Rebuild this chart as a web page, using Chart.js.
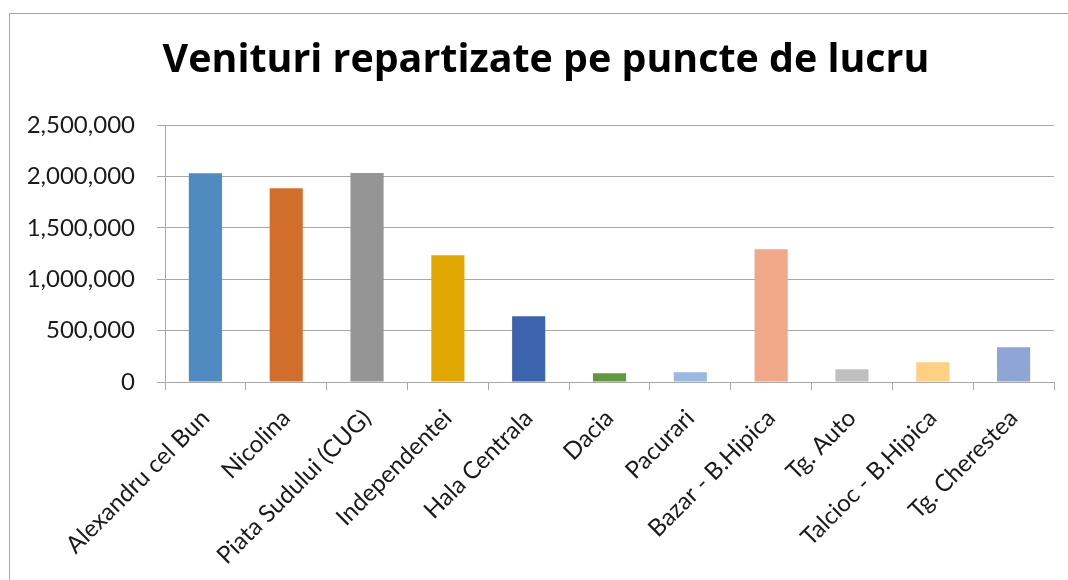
<!DOCTYPE html>
<html>
<head>
<meta charset="utf-8">
<title>Venituri repartizate pe puncte de lucru</title>
<script src="https://cdn.jsdelivr.net/npm/chart.js@4.4.1/dist/chart.umd.min.js"></script>
<style>
    html, body { margin: 0; padding: 0; background: #fff; overflow: hidden; }
    .frame {
        position: absolute;
        left: 9px;
        top: 13px;
        width: 1200px;
        height: 700px;
        border: 1px solid #a6a6a6;
    }
    #chart { position: absolute; left: 0; top: 0; }
</style>
</head>
<body>
<div class="frame"></div>
<canvas id="chart" width="1068" height="580"></canvas>
<script>
// === DATA ===
const categories = [
    'Alexandru cel Bun', 'Nicolina', 'Piata Sudului (CUG)', 'Independentei',
    'Hala Centrala', 'Dacia', 'Pacurari', 'Bazar - B.Hipica', 'Tg. Auto',
    'Talcioc - B.Hipica', 'Tg. Cherestea'
];
const venituri = [
    2030000, 1884000, 2032000, 1232000, 639000, 85000,
    94000, 1291000, 123000, 191000, 337000
];
const barColors = [
    '#4f8bc1', '#d26e2b', '#959595', '#e0a800', '#3c64ad', '#62993e',
    '#99b9e1', '#f0a889', '#bfbfbf', '#fed182', '#8fa5d5'
];
const yTicks = [0, 500000, 1000000, 1500000, 2000000, 2500000];
const chartTitle = 'Venituri repartizate pe puncte de lucru';

const font = "Lato, 'Open Sans', sans-serif";
const titleFont = "'Open Sans', Lato, sans-serif";
const gridColor = '#a8a8a8';

// Title drawn by hand: it is centred a bit off the plot area in the original
const titlePlugin = {
    id: 'offsetTitle',
    afterDraw: function (chart) {
        const ctx = chart.ctx;
        ctx.save();
        ctx.font = 'bold 40px ' + titleFont;
        const size = 40 * 767 / ctx.measureText(chartTitle).width;
        ctx.font = 'bold ' + size.toFixed(1) + 'px ' + titleFont;
        ctx.fillStyle = '#000';
        ctx.textAlign = 'center';
        ctx.textBaseline = 'alphabetic';
        ctx.fillText(chartTitle, 546, 72);
        ctx.restore();
    }
};

new Chart(document.getElementById('chart'), {
    type: 'bar',
    data: {
        labels: categories,
        datasets: [{
            data: venituri,
            backgroundColor: barColors,
            borderWidth: 0,
            barPercentage: 0.41,
            categoryPercentage: 1
        }]
    },
    options: {
        responsive: false,
        animation: false,
        layout: { padding: { left: 0, right: 14, top: 125, bottom: 0 } },
        plugins: {
            legend: { display: false },
            tooltip: { enabled: false },
            title: { display: false }
        },
        scales: {
            x: {
                grid: {
                    drawOnChartArea: false,
                    drawTicks: true,
                    tickLength: 8,
                    color: gridColor
                },
                border: { color: gridColor },
                ticks: {
                    color: '#1a1a1a',
                    font: { family: font, size: 24 },
                    minRotation: 45,
                    maxRotation: 45,
                    padding: 14,
                    autoSkip: false
                },
                afterFit: function (scale) { scale.height = 198; }
            },
            y: {
                min: 0,
                max: 2500000,
                afterBuildTicks: function (scale) {
                    scale.ticks = yTicks.map(v => ({ value: v }));
                },
                grid: { color: gridColor, tickLength: 8 },
                border: { color: gridColor },
                ticks: {
                    color: '#1a1a1a',
                    font: { family: font, size: 24 },
                    padding: 22,
                    callback: v => v.toLocaleString('en-US')
                },
                afterFit: function (scale) { scale.width = 165; }
            }
        }
    },
    plugins: [titlePlugin]
});
</script>
</body>
</html>
